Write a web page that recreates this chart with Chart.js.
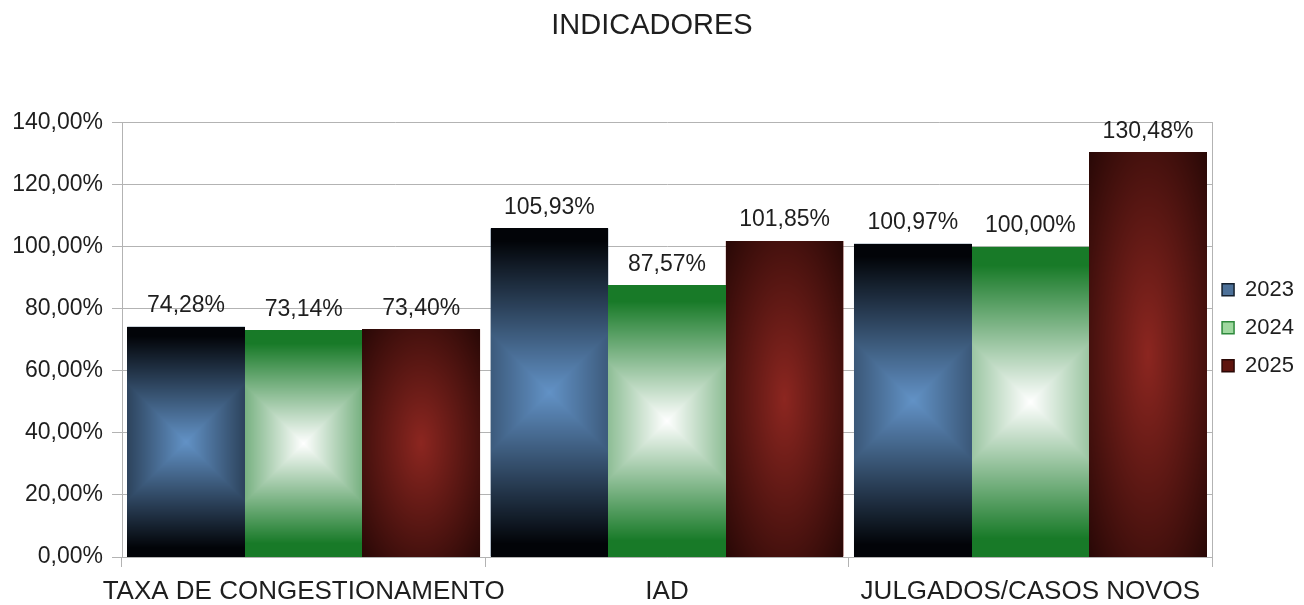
<!DOCTYPE html>
<html>
<head>
<meta charset="utf-8">
<script src="https://cdn.jsdelivr.net/npm/chart.js@4/dist/chart.umd.min.js"></script>
<style>
  html, body { margin: 0; padding: 0; background: #fff; }
  #wrap { width: 1304px; height: 605px; }
</style>
</head>
<body>
<div id="wrap"><canvas id="chart"></canvas></div>
<script>
const categories = ['TAXA DE CONGESTIONAMENTO', 'IAD', 'JULGADOS/CASOS NOVOS'];
const seriesNames = ['2023', '2024', '2025'];
const values2023 = [74.28, 105.93, 100.97];
const values2024 = [73.14, 87.57, 100.00];
const values2025 = [73.40, 101.85, 130.48];
const yTicks = [0, 20, 40, 60, 80, 100, 120, 140];

const FONT = "'Liberation Sans', Arial, sans-serif";
const TEXT = '#1e1e1e';
const GRID = '#b3b3b3';

const pct = v => v.toFixed(2).replace('.', ',') + '%';

// gradient look of each series (LibreOffice style fills)
const fills = [
  { type: 'square', center: [98, 146, 198], edge: [2, 4, 8], border: 0.08 },
  { type: 'square', center: [255, 255, 255], edge: [24, 122, 40], border: 0.12 },
  { type: 'ellipse', center: [140, 38, 32], edge: [40, 8, 6], border: 0 }
];

const mix = (a, b, t) => a.map((v, i) => Math.round(v + (b[i] - v) * t));

function paintBar(ctx, el, f) {
  const { x, y, base, width } = el.getProps(['x', 'y', 'base', 'width'], true);
  const left = Math.round(x - width / 2), right = Math.round(x + width / 2);
  const top = Math.round(Math.min(y, base)), bottom = Math.round(Math.max(y, base));
  const w = right - left, h = bottom - top;
  if (w <= 0 || h <= 0) return;
  const off = document.createElement('canvas');
  off.width = w; off.height = h;
  const octx = off.getContext('2d');
  const img = octx.createImageData(w, h);
  const cx = w / 2, cy = h / 2, half = Math.max(w, h) / 2;
  for (let j = 0; j < h; j++) {
    for (let i = 0; i < w; i++) {
      const dx = i + 0.5 - cx, dy = j + 0.5 - cy;
      let d;
      if (f.type === 'square') d = Math.max(Math.abs(dx), Math.abs(dy)) / half;
      else d = Math.hypot(dx / (w / 2), dy / (h / 2)) / Math.SQRT2;
      const t = Math.min(1, d / (1 - f.border));
      const c = mix(f.center, f.edge, t);
      const k = (j * w + i) * 4;
      img.data[k] = c[0]; img.data[k + 1] = c[1]; img.data[k + 2] = c[2]; img.data[k + 3] = 255;
    }
  }
  octx.putImageData(img, 0, 0);
  ctx.drawImage(off, left, top);
}

const gradientBars = {
  id: 'gradientBars',
  afterDatasetsDraw(chart) {
    const ctx = chart.ctx;
    ctx.save();
    chart.data.datasets.forEach((ds, di) => {
      const meta = chart.getDatasetMeta(di);
      meta.data.forEach(el => paintBar(ctx, el, fills[di]));
    });
    ctx.font = '23px ' + FONT;
    ctx.fillStyle = TEXT;
    ctx.textAlign = 'center';
    ctx.textBaseline = 'middle';
    chart.data.datasets.forEach((ds, di) => {
      const meta = chart.getDatasetMeta(di);
      meta.data.forEach((el, i) => {
        const { x, y } = el.getProps(['x', 'y'], true);
        ctx.fillText(pct(ds.data[i]), x, y - 21);
      });
    });
    ctx.restore();
  }
};

const legendFill = ['#4c7098', '#9fd89f', '#5e140e'];
const legendStroke = ['#14202e', '#2e8a3c', '#2a0806'];

new Chart(document.getElementById('chart'), {
  type: 'bar',
  data: {
    labels: categories,
    datasets: [
      { label: seriesNames[0], data: values2023, backgroundColor: '#33506e' },
      { label: seriesNames[1], data: values2024, backgroundColor: '#8cc090' },
      { label: seriesNames[2], data: values2025, backgroundColor: '#6a1a14' }
    ]
  },
  options: {
    responsive: true,
    maintainAspectRatio: false,
    animation: false,
    layout: { padding: 0 },
    datasets: { bar: { categoryPercentage: 0.971, barPercentage: 1.0 } },
    plugins: {
      title: {
        display: true,
        text: 'INDICADORES',
        color: TEXT,
        font: { family: FONT, size: 29, weight: 'normal' },
        padding: { top: 9, bottom: 79 }
      },
      legend: {
        position: 'right',
        title: { display: true, text: '', font: { size: 12 }, padding: 21 },
        labels: {
          color: TEXT,
          font: { family: FONT, size: 22, lineHeight: 1.27 },
          boxWidth: 12,
          boxHeight: 12,
          padding: 10,
          generateLabels: chart => chart.data.datasets.map((ds, i) => ({
            text: [ds.label],
            fillStyle: legendFill[i],
            strokeStyle: legendStroke[i],
            lineWidth: 1.5,
            fontColor: TEXT,
            datasetIndex: i,
            hidden: false
          }))
        }
      },
      tooltip: { enabled: false }
    },
    scales: {
      x: {
        offset: true,
        afterFit: scale => { scale.height = 48; },
        grid: { offset: true, drawOnChartArea: false, color: GRID, tickLength: 10 },
        border: { color: GRID },
        ticks: { color: TEXT, font: { family: FONT, size: 26 }, padding: 9, maxRotation: 0, autoSkip: false }
      },
      y: {
        min: yTicks[0],
        max: yTicks[yTicks.length - 1],
        afterFit: scale => { scale.width = 122; },
        afterBuildTicks: scale => { scale.ticks = yTicks.map(v => ({ value: v })); },
        grid: { color: GRID, tickLength: 10 },
        border: { color: GRID },
        ticks: { color: TEXT, font: { family: FONT, size: 23 }, padding: 9, callback: v => pct(v) }
      },
      y2: {
        position: 'right',
        grid: { drawOnChartArea: false, drawTicks: false },
        ticks: { display: false },
        border: { display: true, color: GRID }
      }
    }
  },
  plugins: [gradientBars]
});
</script>
</body>
</html>
